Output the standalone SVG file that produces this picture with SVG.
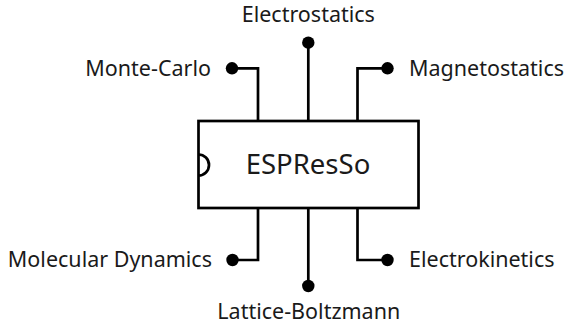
<svg xmlns="http://www.w3.org/2000/svg" width="570" height="325" viewBox="0 0 570 325">
<style>
.lbl{font-family:"Noto Sans","Open Sans","DejaVu Sans",sans-serif;font-size:21.5px;fill:#1a1a1a}
.main{font-family:"Noto Sans","Open Sans","DejaVu Sans",sans-serif;font-size:27.5px;fill:#1a1a1a}
.wire{fill:none;stroke:#000;stroke-width:2.7}
.dot{fill:#000}
.box{fill:#fff;stroke:#000;stroke-width:2.7}
</style>
<rect width="570" height="325" fill="#fff"/>
<g id="connectors">
<path class="wire" d="M232,68.3 H258 V121"/>
<path class="wire" d="M308.3,42.7 V121"/>
<path class="wire" d="M387.5,68.3 H357.5 V121"/>
<path class="wire" d="M232.5,260 H258 V208"/>
<path class="wire" d="M308.3,286 V208"/>
<path class="wire" d="M387.5,260 H357.5 V208"/>
<circle class="dot" cx="232" cy="68.3" r="6.2"/>
<circle class="dot" cx="308.3" cy="42.7" r="6.2"/>
<circle class="dot" cx="387.5" cy="68.3" r="6.2"/>
<circle class="dot" cx="232.5" cy="260" r="6.2"/>
<circle class="dot" cx="308.3" cy="286" r="6.2"/>
<circle class="dot" cx="387.5" cy="260" r="6.2"/>
</g>
<g id="espresso">
<rect class="box" x="198.5" y="121" width="220" height="87"/>
<path class="wire" d="M198.5,154.5 A10.5,10.5 0 0 1 198.5,175.5"/>
<text class="main" x="308" y="174" text-anchor="middle">ESPResSo</text>
</g>
<g id="electrostatics"><text class="lbl" x="308.3" y="22.3" text-anchor="middle">Electrostatics</text></g>
<g id="monte-carlo"><text class="lbl" x="211" y="75.7" text-anchor="end">Monte-Carlo</text></g>
<g id="magnetostatics"><text class="lbl" x="409" y="75.7">Magnetostatics</text></g>
<g id="molecular-dynamics"><text class="lbl" x="212" y="266.7" text-anchor="end">Molecular Dynamics</text></g>
<g id="electrokinetics"><text class="lbl" x="409" y="266.7">Electrokinetics</text></g>
<g id="lattice-boltzmann"><text class="lbl" x="308.8" y="318.6" text-anchor="middle">Lattice-Boltzmann</text></g>
</svg>
